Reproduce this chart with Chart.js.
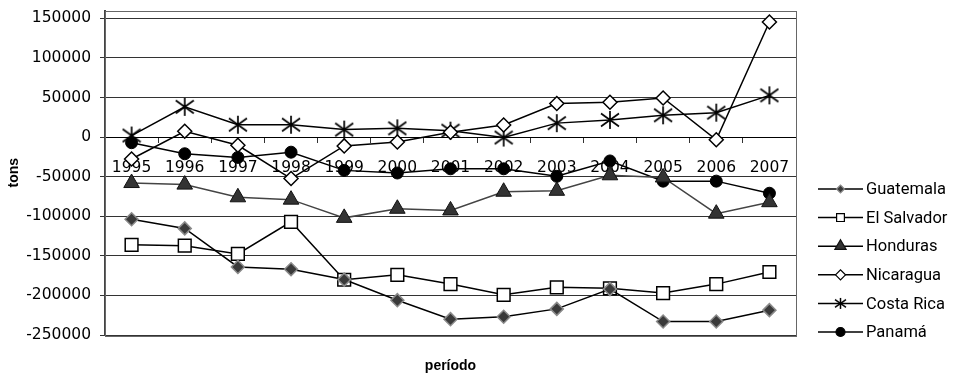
<!DOCTYPE html>
<html>
<head>
<meta charset="utf-8">
<script src="https://cdn.jsdelivr.net/npm/chart.js@4/dist/chart.umd.min.js"></script>
<style>
  html, body { margin: 0; padding: 0; background: #fff; }
  #wrap { width: 963px; height: 375px; }
</style>
</head>
<body>
<div id="wrap"><canvas id="chart"></canvas></div>
<script>
// years on the x axis
const years = ["1995", "1996", "1997", "1998", "1999", "2000", "2001", "2002", "2003", "2004", "2005", "2006", "2007"];

// trade balance in tons
const guatemala = [-103700, -115300, -164000, -167000, -180000, -206000, -230000, -227000, -217000, -192000, -233000, -233000, -218600];
const elSalvador = [-136000, -137200, -147500, -107000, -180200, -174000, -185700, -199200, -189700, -191000, -197000, -185700, -170400];
const honduras = [-58000, -60000, -76000, -79000, -102000, -90500, -92600, -69000, -67800, -48200, -51000, -96700, -82200];
const nicaragua = [-27600, 7400, -10300, -52300, -11100, -6200, 6200, 15300, 42500, 44100, 49500, -3300, 145500];
const costaRica = [2000, 38300, 15700, 15700, 9500, 11100, 8200, -500, 17700, 21800, 27600, 30900, 52800];
const panama = [-7000, -21000, -25600, -19000, -42000, -45300, -40000, -40000, -49500, -30100, -55600, -55600, -70900];

const yTicks = [150000, 100000, 50000, 0, -50000, -100000, -150000, -200000, -250000];

// six-armed asterisk marker (X plus vertical stroke)
function asterisk(size, lw) {
  const c = document.createElement("canvas");
  c.width = size; c.height = size;
  const g = c.getContext("2d");
  const h = size / 2, a = h - 1;
  g.strokeStyle = "#000";
  g.lineWidth = lw;
  g.beginPath();
  g.moveTo(h, h - a); g.lineTo(h, h + a);
  g.moveTo(h - a, h - a * 0.72); g.lineTo(h + a, h + a * 0.72);
  g.moveTo(h - a, h + a * 0.72); g.lineTo(h + a, h - a * 0.72);
  g.stroke();
  return c;
}

const series = [
  { label: "Guatemala", data: guatemala, line: "#000", lw: 1.5, style: "rectRot", r: 6.5, bg: "#3a3a3a", bd: "#8a8a8a", bw: 1.5, lr: 4 },
  { label: "El Salvador", data: elSalvador, line: "#000", lw: 1.5, style: "rect", r: 9, bg: "#fff", bd: "#000", bw: 1.5, lr: 5.5 },
  { label: "Honduras", data: honduras, line: "#444", lw: 1.5, style: "triangle", r: 9, bg: "#333", bd: "#111", bw: 1, lr: 6.5 },
  { label: "Nicaragua", data: nicaragua, line: "#000", lw: 1.5, style: "rectRot", r: 7, bg: "#fff", bd: "#000", bw: 1.5, lr: 5 },
  { label: "Costa Rica", data: costaRica, line: "#000", lw: 1.5, style: asterisk(20, 1.7), r: 8, bg: "#000", bd: "#000", bw: 1, lr: 0, small: asterisk(13, 1.5) },
  { label: "Panamá", data: panama, line: "#000", lw: 1.5, style: "circle", r: 6, bg: "#000", bd: "#000", bw: 1, lr: 4.5 }
];

const frameAndLegend = {
  id: "frameAndLegend",
  beforeDatasetsDraw(chart) {
    const { ctx, chartArea: a } = chart;
    ctx.save();
    ctx.strokeStyle = "#666";
    ctx.lineWidth = 1;
    ctx.strokeRect(Math.round(a.left) + 0.5, Math.round(a.top) + 0.5, Math.round(a.right - a.left), Math.round(a.bottom - a.top));
    ctx.restore();
  },
  afterDraw(chart) {
    const { ctx, chartArea: a } = chart;
    ctx.save();
    // x axis title
    ctx.fillStyle = "#000";
    ctx.font = "bold 14px 'Liberation Sans', Arial, sans-serif";
    ctx.textAlign = "center";
    ctx.textBaseline = "middle";
    ctx.fillText("período", (a.left + a.right) / 2, 366);
    // legend
    ctx.font = "16.5px Roboto, sans-serif";
    ctx.textAlign = "left";
    series.forEach((s, i) => {
      const y = 189 + i * 28.6;
      ctx.strokeStyle = "#000";
      ctx.lineWidth = 1.5;
      ctx.beginPath();
      ctx.moveTo(818, y); ctx.lineTo(863, y);
      ctx.stroke();
      if (s.small) {
        ctx.drawImage(s.small, 840.5 - s.small.width / 2, y - s.small.height / 2);
      } else {
        ctx.fillStyle = s.bg;
        ctx.strokeStyle = s.label === "Guatemala" ? "#8a8a8a" : s.bd;
        ctx.lineWidth = 1.2;
        Chart.helpers.drawPoint(ctx, { pointStyle: s.style, radius: s.lr, borderWidth: 1.2, rotation: 0 }, 840.5, y);
      }
      ctx.fillStyle = "#000";
      ctx.fillText(s.label, 866, y + 1);
    });
    ctx.restore();
  }
};

new Chart(document.getElementById("chart"), {
  type: "line",
  data: {
    labels: years,
    datasets: series.map(s => ({
      label: s.label,
      data: s.data,
      borderColor: s.line,
      borderWidth: s.lw,
      pointStyle: s.style,
      pointRadius: s.r,
      pointBackgroundColor: s.bg,
      pointBorderColor: s.bd,
      pointBorderWidth: s.bw,
      tension: 0,
      fill: false
    }))
  },
  options: {
    responsive: true,
    maintainAspectRatio: false,
    animation: false,
    layout: { padding: { left: 0, right: 167, top: 6, bottom: 40 } },
    plugins: {
      legend: { display: false },
      tooltip: { enabled: false }
    },
    scales: {
      x: {
        type: "category",
        position: { y: 0 },
        offset: true,
        grid: { offset: true, drawOnChartArea: false, drawTicks: true, tickLength: 5, tickColor: "#333" },
        border: { display: true, color: "#000", width: 1 },
        ticks: {
          autoSkip: false, maxRotation: 0, padding: 17, color: "#000",
          font: { family: "'DejaVu Sans', Verdana, sans-serif", size: 15.5 }
        }
      },
      y: {
        min: -250000,
        max: 160000,
        bounds: "data",
        afterBuildTicks: s => { s.ticks = yTicks.map(v => ({ value: v })); },
        afterFit: s => { s.width = 105; s.paddingTop = 0; s.paddingBottom = 0; },
        grid: { color: "#333", lineWidth: 1, drawTicks: true, tickLength: 5, tickColor: "#333" },
        border: { display: true, color: "#444", width: 2 },
        ticks: {
          padding: 9, color: "#000",
          callback: v => String(v),
          font: { family: "'DejaVu Sans', Verdana, sans-serif", size: 15.5 }
        },
        title: {
          display: true, text: "tons", color: "#000",
          padding: { top: 6, bottom: 0 },
          font: { family: "'Liberation Sans', Arial, sans-serif", size: 14, weight: "bold" }
        }
      }
    }
  },
  plugins: [frameAndLegend]
});
</script>
</body>
</html>
